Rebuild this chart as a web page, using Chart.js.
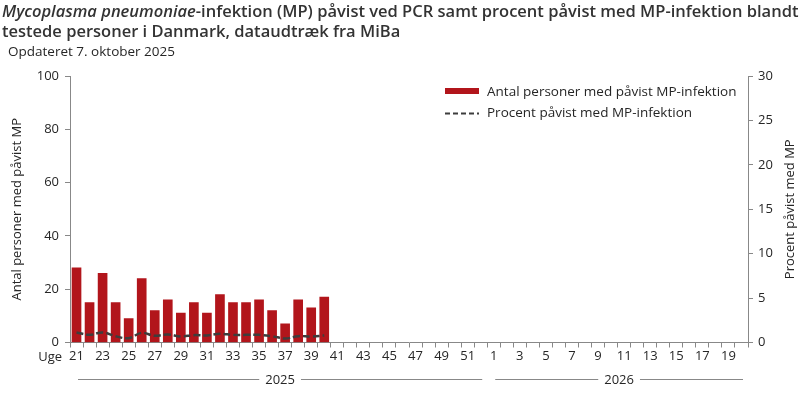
<!DOCTYPE html>
<html>
<head>
<meta charset="utf-8">
<script src="https://cdn.jsdelivr.net/npm/chart.js@4"></script>
<style>
  html, body {
    margin: 0;
    padding: 0;
    background: #fff;
  }
  .wrap {
    position: relative;
    width: 801px;
    height: 393px;
    overflow: hidden;
  }
  .title {
    position: absolute;
    left: 2px;
    top: 1px;
    font-family: 'Open Sans', sans-serif;
    font-weight: 600;
    font-size: 16.5px;
    line-height: 20px;
    color: #333;
    white-space: nowrap;
  }
  .subtitle {
    position: absolute;
    left: 8px;
    top: 42px;
    font-family: 'Open Sans', sans-serif;
    font-size: 13.5px;
    color: #262626;
  }
  canvas {
    position: absolute;
    left: 0;
    top: 0;
  }
</style>
</head>
<body>
<div class="wrap">
  <canvas id="mpChart" width="801" height="393"></canvas>
  <div class="title"><i>Mycoplasma pneumoniae</i>-infektion (MP) påvist ved PCR samt procent påvist med MP-infektion blandt<br>testede personer i Danmark, dataudtræk fra MiBa</div>
  <div class="subtitle">Opdateret 7. oktober 2025</div>
</div>
<script>
// Week categories (2025 wk 21-52, 2026 wk 1-20)
const weeks = [
  '21', '22', '23', '24', '25', '26', '27', '28', '29', '30', '31', '32', '33', '34', '35', '36',
  '37', '38', '39', '40', '41', '42', '43', '44', '45', '46', '47', '48', '49', '50', '51', '52',
  '1', '2', '3', '4', '5', '6', '7', '8', '9', '10', '11', '12', '13', '14', '15', '16', '17', '18', '19', '20'
];

// Number of persons with confirmed MP (weeks 21-40)
const antal = [28, 15, 26, 15, 9, 24, 12, 16, 11, 15, 11, 18, 15, 15, 16, 12, 7, 16, 13, 17];

// Percent positive (weeks 21-40)
const procent = [1.13, 0.86, 1.13, 0.71, 0.49, 1.09, 0.75, 0.9, 0.68, 0.83, 0.79, 0.98, 0.86, 0.86, 0.86, 0.71, 0.45, 0.71, 0.68, 0.79];

// Year groups under the axis
const years = ['2025', '2026'];
const yearWeekCounts = [32, 20];

const FONT = "'Open Sans', sans-serif";
const TEXT = '#262626';
const AXIS = '#888888';

// Extra drawing: legend, "Uge", year brackets, right axis title
const extrasPlugin = {
  id: 'extras',
  afterDraw(chart) {
    const ctx = chart.ctx;
    const x = chart.scales.x;
    const area = chart.chartArea;
    ctx.save();
    ctx.font = `13px ${FONT}`;
    ctx.fillStyle = TEXT;
    ctx.textBaseline = 'middle';

    // Uge
    ctx.textAlign = 'right';
    ctx.fillText('Uge', 62, 357);

    // Year groups
    let start = 0;
    years.forEach((year, i) => {
      const end = start + yearWeekCounts[i] - 1;
      const half = (x.getPixelForValue(1) - x.getPixelForValue(0)) / 2;
      const x0 = x.getPixelForValue(start) - half + 8;
      const x1 = x.getPixelForValue(end) + half - 5;
      const mid = (x0 + x1) / 2;
      const tw = ctx.measureText(year).width;
      ctx.strokeStyle = AXIS;
      ctx.lineWidth = 1;
      ctx.beginPath();
      ctx.moveTo(x0, 379.5);
      ctx.lineTo(mid - tw / 2 - 6, 379.5);
      ctx.moveTo(mid + tw / 2 + 6, 379.5);
      ctx.lineTo(x1, 379.5);
      ctx.stroke();
      ctx.textAlign = 'center';
      ctx.fillText(year, mid, 380);
      start = end + 1;
    });

    // Right axis title
    ctx.save();
    ctx.translate(790, (area.top + area.bottom) / 2);
    ctx.rotate(-Math.PI / 2);
    ctx.textAlign = 'center';
    ctx.fillText('Procent påvist med MP', 0, 0);
    ctx.restore();

    // Legend
    const ds = chart.data.datasets;
    ctx.font = `13.5px ${FONT}`;
    ctx.textAlign = 'left';
    ctx.fillStyle = ds[0].backgroundColor;
    ctx.fillRect(445, 88, 34, 6);
    ctx.fillStyle = TEXT;
    ctx.fillText(ds[0].label, 487, 92);

    ctx.strokeStyle = ds[1].borderColor;
    ctx.lineWidth = 2;
    ctx.setLineDash([5, 3]);
    ctx.beginPath();
    ctx.moveTo(445, 113.5);
    ctx.lineTo(479, 113.5);
    ctx.stroke();
    ctx.setLineDash([]);
    ctx.fillText(ds[1].label, 487, 113);

    ctx.restore();
  }
};

const ctx = document.getElementById('mpChart').getContext('2d');

const mpChart = new Chart(ctx, {
  data: {
    labels: weeks,
    datasets: [
      {
        type: 'bar',
        label: 'Antal personer med påvist MP-infektion',
        data: antal,
        backgroundColor: '#B2151B',
        barThickness: 9,
        yAxisID: 'y',
        order: 2
      },
      {
        type: 'line',
        label: 'Procent påvist med MP-infektion',
        data: procent,
        borderColor: '#3d3d3d',
        borderWidth: 2.5,
        borderDash: [7, 3],
        pointRadius: 0,
        tension: 0.4,
        fill: false,
        yAxisID: 'y1',
        order: 1
      }
    ]
  },
  options: {
    responsive: false,
    animation: false,
    layout: {
      padding: { top: 76, left: 0, right: 0, bottom: 0 }
    },
    plugins: {
      legend: { display: false },
      tooltip: { enabled: false }
    },
    scales: {
      x: {
        offset: true,
        grid: {
          offset: true,
          drawOnChartArea: false,
          drawTicks: true,
          tickLength: 5,
          color: AXIS
        },
        border: { display: true, color: AXIS },
        ticks: {
          autoSkip: false,
          maxRotation: 0,
          padding: 1,
          color: TEXT,
          font: { size: 13, family: FONT },
          callback: function(value) {
            const w = Number(weeks[value]);
            return w % 2 === 1 ? weeks[value] : '';
          }
        },
        afterFit: function(scale) {
          scale.height = 50.5;
        }
      },
      y: {
        position: 'left',
        min: 0,
        max: 100,
        grid: {
          drawOnChartArea: false,
          drawTicks: true,
          tickLength: 5,
          color: AXIS
        },
        border: { display: true, color: AXIS },
        ticks: {
          stepSize: 20,
          padding: 6,
          color: TEXT,
          font: { size: 13, family: FONT }
        },
        title: {
          display: true,
          text: 'Antal personer med påvist MP',
          color: TEXT,
          font: { size: 13, family: FONT },
          padding: { top: 9, bottom: 0 }
        },
        afterFit: function(scale) {
          scale.width = 70;
        }
      },
      y1: {
        position: 'right',
        min: 0,
        max: 30,
        grid: {
          drawOnChartArea: false,
          drawTicks: true,
          tickLength: 5,
          color: AXIS
        },
        border: { display: true, color: AXIS },
        ticks: {
          stepSize: 5,
          padding: 5,
          color: TEXT,
          font: { size: 13, family: FONT }
        },
        afterFit: function(scale) {
          scale.width = 53;
        }
      }
    }
  },
  plugins: [extrasPlugin]
});
</script>
</body>
</html>
